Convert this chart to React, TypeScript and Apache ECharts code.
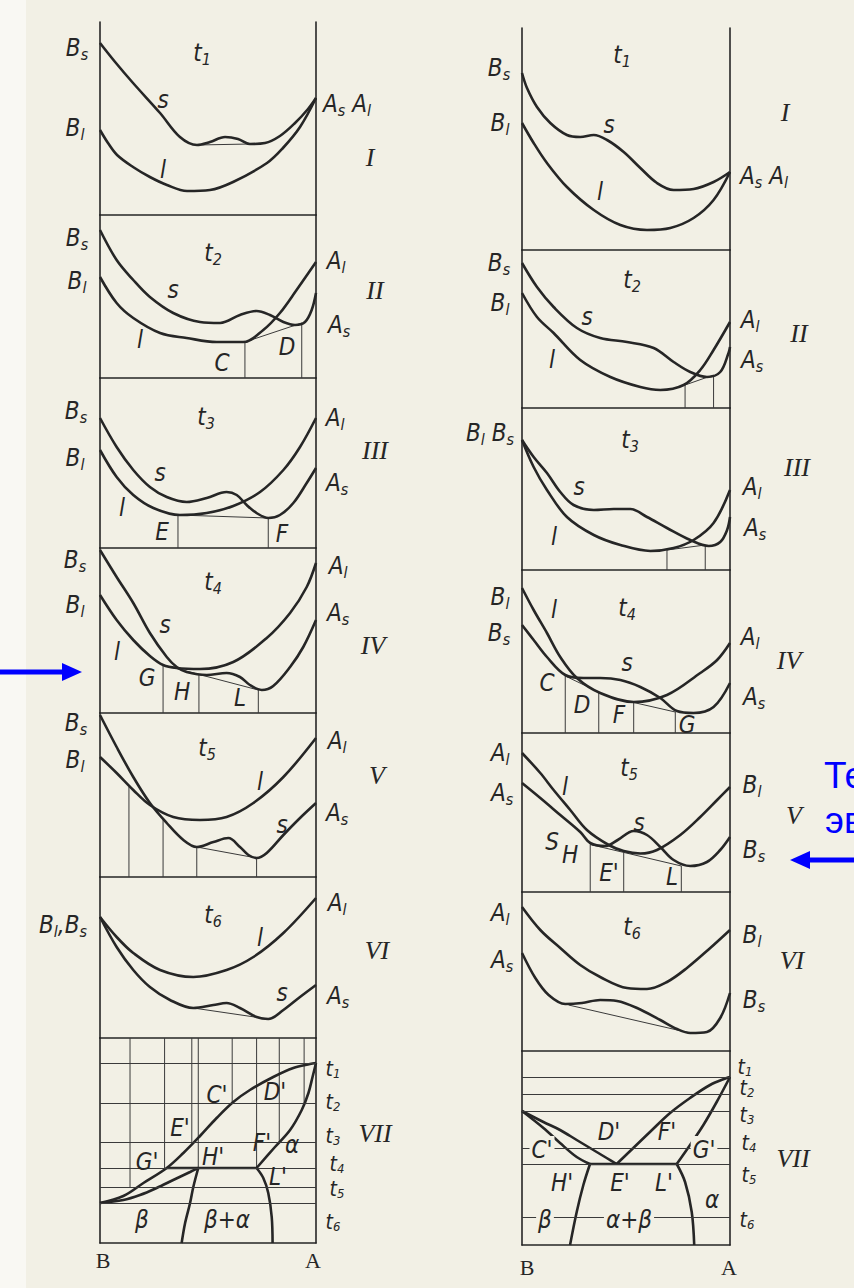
import React, { useEffect, useRef } from "react";
import * as echarts from "echarts";

// Free-energy / composition curves (panels I–VI) and the resulting phase
// diagrams (panel VII) for two binary systems.
// x: composition, 0 at the left frame line, 100 at the right one.
// y: relative free energy (or temperature in VII), 0 at the panel's lower edge.

type Pt = [number, number];

// ---------- left system ----------
const L1_s: Pt[] = [[0,172],[7.0,153],[15.3,132],[27.8,102],[37.0,78],[44.9,70],[50.9,73],[57.9,78],[63.9,76],[69.4,71],[76.4,72],[83.3,79],[90.3,92],[96.3,106],[100,117]];
const L1_l: Pt[] = [[0,85],[3.7,72],[7.9,60],[15.3,48],[23.1,38],[31,30],[40.3,24],[50.9,25],[61.6,33],[77.3,52],[84.7,67],[92.6,88],[100,117]];
const L1_tie: Pt[] = [[44.9,70],[69.4,71]];

const L2_s: Pt[] = [[0,148],[7.7,118],[15.4,98],[23.1,81],[33.9,65],[46.3,56],[55.6,55],[64.8,63],[72.5,67],[78.7,63],[84.9,56],[90.3,53],[94.9,56],[98,68],[100,85]];
const L2_l: Pt[] = [[0,101],[7.7,75],[15.4,60],[27.8,45],[40.1,40],[54,36],[66.3,36],[75.6,48],[83.3,65],[91,88],[100,116]];
const L2_tie: Pt[] = [[67.1,36],[93.4,55]];
const L2_drops: Pt[] = [[67.1,36],[93.4,55]];

const L3_s: Pt[] = [[0,130],[7.7,101],[15.4,78],[23.1,61],[30.9,51],[40.1,46],[49.4,50],[58.6,56],[63.3,53],[67.9,43],[72.5,35],[77.9,30],[83.3,33],[89.5,45],[95.7,65],[100,80]];
const L3_l: Pt[] = [[0,98],[7.7,71],[15.4,53],[24.7,40],[37.0,33],[49.4,35],[61.7,42],[74.1,56],[84.9,78],[92.6,101],[100,130]];
const L3_tie: Pt[] = [[36.1,33],[77.9,30]];
const L3_drops: Pt[] = [[36.1,33],[77.9,30]];

const L4_s: Pt[] = [[0,163],[7.7,136],[15.4,110],[23.1,80],[30.9,56],[35.5,46],[40.1,41],[49.4,38],[58.6,40],[64.8,36],[69.4,28],[74.9,23],[80.2,27],[88.0,46],[94.1,66],[100,93]];
const L4_l: Pt[] = [[0,118],[7.7,93],[15.4,73],[23.1,57],[29.2,48],[35.5,45],[46.3,44],[61.7,51],[77.2,75],[88.0,100],[95.7,126],[100,150]];
const L4_tie: Pt[] = [[29.2,48],[73.3,23]];
const L4_drops: Pt[] = [[29.2,48],[45.8,38.6],[73.3,23]];

const L5_s: Pt[] = [[0,162],[7.7,130],[15.4,100],[23.1,74],[30.9,54],[38.6,37],[44.8,30],[52.5,35],[59.4,39],[64.8,30],[68.7,22],[72.5,19],[77.2,24],[84.9,42],[92.6,59],[100,74]];
const L5_l: Pt[] = [[0,120],[7.7,104],[15.4,87],[23.1,72],[33.9,60],[46.3,57],[58.6,60],[71,74],[84.9,100],[100,139]];
const L5_tie: Pt[] = [[44.8,30],[72.5,19]];
const L5_drops: Pt[] = [[13.4,90],[29.2,57],[44.8,30],[72.5,19]];

const L6_l: Pt[] = [[0,121],[7.7,101],[15.4,85],[27.8,68],[43.2,61],[58.6,68],[71,81],[84.9,105],[100,140]];
const L6_s: Pt[] = [[0,121],[7.7,91],[15.4,68],[23.1,51],[32.4,38],[43.2,30],[52.5,33],[58.6,35],[64.8,30],[72.5,21],[77.9,19],[84.9,28],[92.6,41],[100,53]];
const L6_tie: Pt[] = [[43.2,30],[77.9,19]];

const L7_liquidus: Pt[] = [[0,40],[10.8,47],[20.1,60],[30.9,75],[38.6,90],[46.3,107],[54,125],[61.7,141],[69.4,153],[80.2,166],[89.5,175],[97.2,179],[100,180]];
const L7_solidusA: Pt[] = [[100,180],[98.4,166],[96.5,150],[93.4,133],[88,113],[81,96],[72.5,75]];
const L7_solidusB: Pt[] = [[0,40],[10.8,43],[18.5,48],[26.2,55],[33.9,63],[41.7,71],[45.5,75]];
const L7_horizontal: Pt[] = [[30.9,75],[72.5,75]];
const L7_solvusB: Pt[] = [[45.5,75],[43.2,56],[41.7,40],[39.4,20],[37.8,0]];
const L7_solvusA: Pt[] = [[72.5,75],[75.6,65],[77.9,50],[79.5,26],[79.9,0]];
const L7_levels = [180, 140, 101, 75, 56, 40];
const L7_rises: Pt[] = [[13.9,56],[29.9,75],[42.5,101],[45.5,75],[61.2,140],[72.5,75],[83,101],[94.5,140]];

// ---------- right system ----------
const R1_s: Pt[] = [[0,177],[2.4,162],[7.2,143],[13.6,127],[21.6,115],[28,113],[34.5,115],[40.9,110],[48.9,98],[56.9,82],[64.9,67],[72.9,60],[82.5,61],[92.1,68],[100,78]];
const R1_l: Pt[] = [[0,127],[5.6,107],[12,87],[21.6,63],[34.5,40],[47.3,25],[60.1,20],[71.3,22],[82.5,32],[92.1,50],[100,78]];

const R2_s: Pt[] = [[0,145],[7.2,121],[15.2,101],[26.4,80],[37.6,70],[50.5,66],[63.3,60],[72.9,46],[80.9,36],[88.9,31],[95.3,36],[99.3,55],[100,61]];
const R2_l: Pt[] = [[0,115],[7.2,91],[15.2,75],[28,48],[42.5,31],[56.9,21],[66.5,18],[77.7,23],[85.7,38],[92.1,58],[100,86]];
const R2_tie: Pt[] = [[78.4,23],[92.1,33]];
const R2_drops: Pt[] = [[78.4,23],[92.1,33]];

const R3_s: Pt[] = [[0,130],[5.6,113],[12,97],[18.4,78],[24.8,65],[34.5,60],[44.1,61],[52.1,61],[60.1,53],[69.7,42],[80.9,30],[89.8,24],[95.3,28],[98.6,40],[100,53]];
const R3_l: Pt[] = [[0,130],[5.6,103],[12,80],[21.6,53],[34.5,35],[47.3,25],[61.7,19],[72.9,22],[82.5,30],[92.1,47],[100,80]];
const R3_tie: Pt[] = [[69.7,20],[88.1,25]];
const R3_drops: Pt[] = [[69.7,20],[88.1,25]];

const R4_l: Pt[] = [[0,145],[5.6,123],[12,100],[18.4,76],[26.4,55],[37.6,40],[53.7,31],[69.7,38],[85.7,60],[93.8,73],[100,90]];
const R4_s: Pt[] = [[0,108],[5.6,93],[12,76],[20.8,58],[29.6,55],[37.6,55],[47.3,53],[56.9,46],[66.5,35],[74.5,22],[82.5,20],[92.1,26],[100,50]];
const R4_tieCD: Pt[] = [[20.8,57],[36.9,41]];
const R4_tieFG: Pt[] = [[53.7,30.5],[73.7,21]];
const R4_drops: Pt[] = [[20.8,57],[36.9,41],[53.7,30.5],[73.7,21]];

const R5_l: Pt[] = [[0,139],[8.8,119],[15.2,102],[23.2,82],[31.2,62],[41.7,47],[48.9,41],[56.9,38.5],[64.9,42],[76.1,57],[85.7,75],[93.8,92],[100,105]];
const R5_s: Pt[] = [[0,109],[8.8,94],[18.4,77],[28,60],[32.8,49],[40,46],[46,52],[53.7,61],[60.1,57],[66.5,45],[72.9,32],[80.9,26],[88.9,30],[95.3,42],[100,55]];
const R5_tie: Pt[] = [[32.8,47.5],[76.6,26]];
const R5_drops: Pt[] = [[32.8,47.5],[48.9,39.5],[76.6,26]];

const R6_l: Pt[] = [[0,144],[8.8,121],[18.4,103],[28,86],[37.6,74],[50.5,63],[60.1,62],[69.7,69],[79.3,83],[90.5,103],[100,121]];
const R6_s: Pt[] = [[0,98],[6.4,73],[12.8,56],[20.8,47],[28.8,48],[37.6,51],[45.7,50],[55.3,43],[66.5,31],[74.5,22],[80.9,18],[88.9,19],[95.3,33],[100,58]];
const R6_tie: Pt[] = [[22.4,46],[80.9,18]];

const R7_liquidusB: Pt[] = [[0,134],[10.3,123],[18.3,115],[26.3,105],[34.3,95],[40.7,87],[45.5,81]];
const R7_solidusB: Pt[] = [[0,134],[10.3,117],[18.3,102],[26.3,88],[32.7,81]];
const R7_eutectic: Pt[] = [[32.7,81],[74.4,81]];
const R7_liquidusA: Pt[] = [[45.5,81],[53.5,97],[61.5,113],[71.2,132],[80.8,147],[90.4,160],[98.4,167],[100,168]];
const R7_solidusA: Pt[] = [[100,168],[93.6,143],[87.2,120],[80.8,100],[74.4,81]];
const R7_solvusB: Pt[] = [[32.7,81],[29.5,60],[26.3,33],[23.1,0]];
const R7_solvusA: Pt[] = [[74.4,81],[78.4,63],[81.6,33],[82.8,0]];
const R7_levels = [168, 151, 134, 97, 81, 28];

// ---------- layout ----------
const INK = "#262626";
const THIN = "#3a3a3a";
const PAPER = "#f2f0e5";
const BLUE = "#0000ff";

const COLUMNS = [
  { x: 100, w: 216, edges: [22, 215, 378, 548, 713, 877, 1038, 1243] },
  { x: 522, w: 208, edges: [28, 250, 408, 570, 733, 892, 1051, 1245] },
];

const PANELS: any[][] = [
  [
    { curves: [L1_s, L1_l], ties: [L1_tie], drops: [] },
    { curves: [L2_s, L2_l], ties: [L2_tie], drops: L2_drops },
    { curves: [L3_s, L3_l], ties: [L3_tie], drops: L3_drops },
    { curves: [L4_s, L4_l], ties: [L4_tie], drops: L4_drops },
    { curves: [L5_s, L5_l], ties: [L5_tie], drops: L5_drops },
    { curves: [L6_s, L6_l], ties: [L6_tie], drops: [] },
    {
      curves: [L7_liquidus, L7_solidusA, L7_solidusB, L7_horizontal, L7_solvusB, L7_solvusA],
      ties: [], drops: [], levels: L7_levels, rises: L7_rises,
    },
  ],
  [
    { curves: [R1_s, R1_l], ties: [], drops: [] },
    { curves: [R2_s, R2_l], ties: [R2_tie], drops: R2_drops },
    { curves: [R3_s, R3_l], ties: [R3_tie], drops: R3_drops },
    { curves: [R4_l, R4_s], ties: [R4_tieCD, R4_tieFG], drops: R4_drops },
    { curves: [R5_l, R5_s], ties: [R5_tie], drops: R5_drops },
    { curves: [R6_l, R6_s], ties: [R6_tie], drops: [] },
    {
      curves: [R7_liquidusB, R7_solidusB, R7_eutectic, R7_liquidusA, R7_solidusA, R7_solvusB, R7_solvusA],
      ties: [], drops: [], levels: R7_levels, rises: [],
    },
  ],
];

// labels: x, y, text ("_" marks a one-letter subscript), kind
const LABELS: [number, number, string, string?][] = [
  [77,48,"B_s"],[202,53,"t_1"],[163,100,"s"],[75,128,"B_l"],[163,170,"l"],[347,104,"A_s A_l"],[370,157,"I","r"],
  [77,238,"B_s"],[213,253,"t_2"],[77,281,"B_l"],[173,290,"s"],[336,261,"A_l"],[375,290,"II","r"],[140,340,"l"],[339,325,"A_s"],[287,347,"D"],[222,363,"C"],
  [76,411,"B_s"],[206,417,"t_3"],[335,418,"A_l"],[75,458,"B_l"],[375,450,"III","r"],[160,473,"s"],[337,483,"A_s"],[122,508,"l"],[162,532,"E"],[282,534,"F"],
  [75,560,"B_s"],[213,582,"t_4"],[338,566,"A_l"],[75,605,"B_l"],[338,613,"A_s"],[165,625,"s"],[373,645,"IV","r"],[117,652,"l"],[147,678,"G"],[182,692,"H"],[240,698,"L"],
  [76,723,"B_s"],[207,748,"t_5"],[337,741,"A_l"],[75,760,"B_l"],[377,775,"V","r"],[260,782,"l"],[337,813,"A_s"],[282,825,"s"],
  [63,925,"B_l,B_s"],[213,915,"t_6"],[337,903,"A_l"],[260,938,"l"],[377,950,"VI","r"],[282,993,"s"],[338,996,"A_s"],
  [217,1095,"C'"],[275,1092,"D'"],[180,1128,"E'"],[147,1162,"G'"],[213,1157,"H'"],[262,1143,"F'"],[292,1145,"α"],[278,1177,"L'"],[142,1220,"β"],[227,1220,"β+α"],
  [333,1069,"t_1","t"],[333,1102,"t_2","t"],[333,1136,"t_3","t"],[337,1164,"t_4","t"],[337,1189,"t_5","t"],[333,1222,"t_6","t"],[375,1133,"VII","r"],[103,1260,"B","b"],[313,1260,"A","b"],

  [499,68,"B_s"],[622,55,"t_1"],[785,112,"I","r"],[500,123,"B_l"],[609,125,"s"],[764,176,"A_s A_l"],[600,192,"l"],
  [499,263,"B_s"],[632,280,"t_2"],[500,303,"B_l"],[587,317,"s"],[750,320,"A_l"],[799,333,"II","r"],[752,360,"A_s"],[552,360,"l"],
  [490,433,"B_l B_s"],[630,440,"t_3"],[797,467,"III","r"],[579,487,"s"],[752,487,"A_l"],[755,528,"A_s"],[554,537,"l"],
  [500,597,"B_l"],[554,610,"l"],[627,608,"t_4"],[499,633,"B_s"],[750,637,"A_l"],[789,660,"IV","r"],[627,663,"s"],[547,683,"C"],[754,697,"A_s"],[582,705,"D"],[619,715,"F"],[687,725,"G"],
  [500,753,"A_l"],[629,768,"t_5"],[565,787,"l"],[752,785,"B_l"],[502,793,"A_s"],[794,815,"V","r"],[639,823,"s"],[552,842,"S"],[570,855,"H"],[754,850,"B_s"],[609,873,"E'"],[672,877,"L"],
  [500,913,"A_l"],[632,927,"t_6"],[752,935,"B_l"],[792,960,"VI","r"],[502,960,"A_s"],[754,1000,"B_s"],
  [542,1150,"C'","g"],[609,1132,"D'"],[667,1132,"F'"],[704,1150,"G'","g"],[562,1183,"H'"],[620,1183,"E'"],[664,1183,"L'"],[712,1200,"α"],[545,1220,"β","g"],[629,1220,"α+β","g"],
  [745,1067,"t_1","t"],[747,1088,"t_2","t"],[747,1115,"t_3","t"],[749,1143,"t_4","t"],[749,1175,"t_5","t"],[747,1220,"t_6","t"],[793,1158,"VII","r"],[527,1267,"B","b"],[729,1267,"A","b"],
];

const F_IT = "'DejaVu Sans Condensed','Liberation Sans Narrow','Liberation Sans',sans-serif";
const F_SERIF = "'Liberation Serif','DejaVu Serif',serif";

const RICH: any = {
  m: { fontSize: 24, fontStyle: "italic", fontFamily: F_IT, fill: INK, lineHeight: 28 },
  s: { fontSize: 16, fontStyle: "italic", fontFamily: F_IT, fill: INK, lineHeight: 10, verticalAlign: "bottom" },
  tm: { fontSize: 21, fontStyle: "italic", fontFamily: F_IT, fill: INK, lineHeight: 22 },
  ts: { fontSize: 13, fontStyle: "italic", fontFamily: F_IT, fill: INK, lineHeight: 8, verticalAlign: "bottom" },
  r: { fontSize: 26, fontStyle: "italic", fontFamily: F_SERIF, fill: INK, lineHeight: 28 },
  b: { fontSize: 22, fontFamily: F_SERIF, fill: INK, lineHeight: 26 },
};

function richOf(text: string, kind: string): string {
  if (kind === "r" || kind === "b") return `{${kind}|${text}}`;
  const main = kind === "t" ? "tm" : "m";
  const sub = kind === "t" ? "ts" : "s";
  let out = "";
  let buf = "";
  for (let i = 0; i < text.length; i++) {
    if (text[i] === "_" && i + 1 < text.length) {
      if (buf) { out += `{${main}|${buf}}`; buf = ""; }
      out += `{${sub}|${text[i + 1]}}`;
      i++;
    } else buf += text[i];
  }
  if (buf) out += `{${main}|${buf}}`;
  return out;
}

function buildOption() {
  const grid: any[] = [];
  const xAxis: any[] = [];
  const yAxis: any[] = [];
  const series: any[] = [];
  const frame = { show: true, onZero: false, lineStyle: { color: INK, width: 1.6 } };
  const bare = { axisTick: { show: false }, axisLabel: { show: false }, splitLine: { show: false } };

  COLUMNS.forEach((col, c) => {
    PANELS[c].forEach((p, i) => {
      const g = grid.length;
      const top = col.edges[i];
      const h = col.edges[i + 1] - top;
      grid.push({ left: col.x, top, width: col.w, height: h });
      xAxis.push({ type: "value", gridIndex: g, min: 0, max: 100, axisLine: frame, ...bare });
      yAxis.push({ type: "value", gridIndex: g, min: 0, max: h, position: "left", axisLine: frame, ...bare });
      yAxis.push({ type: "value", gridIndex: g, min: 0, max: h, position: "right", axisLine: frame, ...bare });
      const base = { type: "line", xAxisIndex: g, yAxisIndex: 2 * g, symbol: "none", silent: true, animation: false };

      p.curves.forEach((d: Pt[]) =>
        series.push({ ...base, data: d, smooth: 0.35, z: 4, lineStyle: { color: INK, width: 2.6 } })
      );
      p.ties.forEach((d: Pt[]) =>
        series.push({ ...base, data: d, z: 3, lineStyle: { color: THIN, width: 1 } })
      );
      p.drops.forEach((d: Pt) =>
        series.push({ ...base, data: [d, [d[0], 0]], z: 3, lineStyle: { color: THIN, width: 1 } })
      );
      (p.rises || []).forEach((d: Pt) =>
        series.push({ ...base, data: [[d[0], h], d], z: 3, lineStyle: { color: THIN, width: 1 } })
      );
      if (p.levels) {
        series.push({
          ...base, data: [], z: 3,
          markLine: {
            silent: true, symbol: ["none", "none"], animation: false,
            label: { show: false },
            lineStyle: { color: THIN, width: 1, type: "solid" },
            data: p.levels.map((v: number) => ({ yAxis: v })),
          },
        });
      }
    });
  });

  const graphic: any[] = [
    { type: "rect", z: 0, silent: true, shape: { x: 0, y: 0, width: 26, height: 1288 }, style: { fill: "#f9f8f3" } },
  ];
  LABELS.forEach(([x, y, t, kind]) => {
    const k = kind || "m";
    const style: any = {
      text: richOf(t, k === "g" ? "m" : k), rich: RICH, fill: INK,
      align: "center", verticalAlign: "middle", textAlign: "center", textVerticalAlign: "middle",
    };
    if (k === "g") { style.backgroundColor = PAPER; style.padding = [0, 2]; }
    graphic.push({ type: "text", x, y, z: 10, silent: true, style });
  });

  // blue pointers and the caption running off the right edge
  graphic.push(
    { type: "line", z: 20, silent: true, shape: { x1: 0, y1: 672, x2: 68, y2: 672 }, style: { stroke: BLUE, lineWidth: 5 } },
    { type: "polygon", z: 20, silent: true, shape: { points: [[62, 663], [82, 672], [62, 681]] }, style: { fill: BLUE } },
    { type: "line", z: 20, silent: true, shape: { x1: 806, y1: 860, x2: 860, y2: 860 }, style: { stroke: BLUE, lineWidth: 5 } },
    { type: "polygon", z: 20, silent: true, shape: { points: [[790, 860], [810, 851], [810, 869]] }, style: { fill: BLUE } },
    { type: "text", z: 20, silent: true, x: 824, y: 775, style: { text: "Те", fill: BLUE, fontSize: 37, fontFamily: "'Liberation Sans',sans-serif", align: "left", verticalAlign: "middle" } },
    { type: "text", z: 20, silent: true, x: 825, y: 820, style: { text: "эв", fill: BLUE, fontSize: 37, fontFamily: "'Liberation Sans',sans-serif", align: "left", verticalAlign: "middle" } },
  );

  return { animation: false, backgroundColor: PAPER, grid, xAxis, yAxis, series, graphic };
}

export default function App() {
  const ref = useRef<HTMLDivElement>(null);
  useEffect(() => {
    if (!ref.current) return;
    const chart = echarts.init(ref.current, undefined, { renderer: "svg" });
    chart.setOption(buildOption());
    return () => chart.dispose();
  }, []);
  return <div ref={ref} style={{ position: "absolute", left: 0, top: 0, width: 854, height: 1288 }} />;
}
